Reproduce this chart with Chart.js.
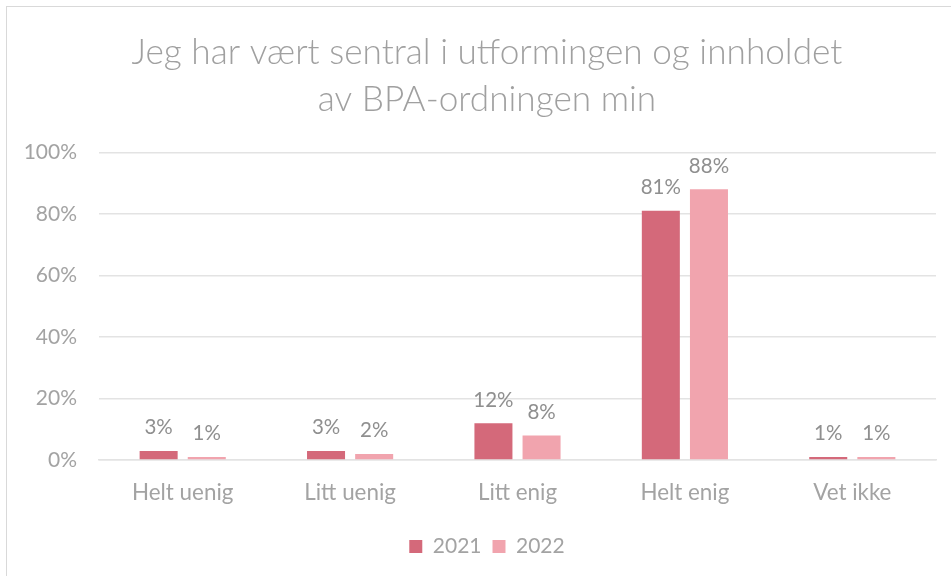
<!DOCTYPE html>
<html>
<head>
<meta charset="utf-8">
<script src="https://cdn.jsdelivr.net/npm/chart.js@4"></script>
<style>
    html, body { margin: 0; padding: 0; background: #fff; overflow: hidden; }
    #box {
        position: absolute; left: 6px; top: 6px;
        width: 960px; height: 580px;
        border: 1px solid #d9d9d9; background: #fff;
    }
    #chartCanvas { display: block; }
</style>
</head>
<body>
<div id="box"><canvas id="chartCanvas" width="960" height="580"></canvas></div>
<script>
const categories = ['Helt uenig', 'Litt uenig', 'Litt enig', 'Helt enig', 'Vet ikke'];
const years = ['2021', '2022'];
const values2021 = [3, 3, 12, 81, 1];
const values2022 = [1, 2, 8, 88, 1];
const yTicks = [0, 20, 40, 60, 80, 100];

const FONT = 'Lato, "Open Sans", sans-serif';
const GREY = '#a3a3a3';

// draws the "12%" style labels over each bar
const barLabels = {
    id: 'barLabels',
    afterDatasetsDraw(chart) {
        const ctx = chart.ctx;
        ctx.save();
        ctx.font = '20.5px ' + FONT;
        ctx.fillStyle = '#8f8f8f';
        ctx.textAlign = 'center';
        ctx.textBaseline = 'bottom';
        chart.data.datasets.forEach((ds, i) => {
            chart.getDatasetMeta(i).data.forEach((bar, j) => {
                ctx.fillText(ds.data[j] + '%', bar.x, bar.y - 13);
            });
        });
        ctx.restore();
    }
};

new Chart(document.getElementById('chartCanvas'), {
    type: 'bar',
    data: {
        labels: categories,
        datasets: [
            { label: years[0], data: values2021, backgroundColor: '#d4697a' },
            { label: years[1], data: values2022, backgroundColor: '#f1a4ae' }
        ]
    },
    options: {
        responsive: false,
        animation: false,
        categoryPercentage: 0.575,
        barPercentage: 0.79,
        layout: { padding: { left: 0, right: 0, top: 22, bottom: 20 } },
        scales: {
            y: {
                min: 0, max: 100,
                afterBuildTicks: (axis) => { axis.ticks = yTicks.map(v => ({ value: v })); },
                afterFit: (axis) => { axis.width = 92; },
                ticks: {
                    callback: (v) => v + '%',
                    color: GREY, font: { family: FONT, size: 21 }, padding: 22
                },
                grid: { color: '#e3e3e3', lineWidth: 1.5, drawTicks: false },
                border: { display: false }
            },
            // empty right axis, only keeps the plot off the right edge
            // so title and legend stay centred on the whole box
            yRight: {
                position: 'right',
                min: 0, max: 100,
                afterFit: (axis) => { axis.width = 31; },
                ticks: { display: false },
                grid: { display: false, drawTicks: false },
                border: { display: false }
            },
            x: {
                ticks: { color: GREY, font: { family: FONT, size: 22.4 }, padding: 19 },
                grid: { display: false, drawTicks: false },
                border: { color: '#e3e3e3', width: 1.5 }
            }
        },
        plugins: {
            title: {
                display: true,
                text: ['Jeg har vært sentral i utformingen og innholdet', 'av BPA-ordningen min'],
                color: '#a0a0a0',
                font: { family: FONT, size: 35.2, weight: 300, lineHeight: 1.34 },
                padding: { top: 0, bottom: 29 }
            },
            legend: {
                position: 'bottom',
                labels: {
                    color: GREY, font: { family: FONT, size: 21 },
                    boxWidth: 13, boxHeight: 13, padding: 11
                }
            },
            tooltip: { enabled: false }
        }
    },
    plugins: [barLabels]
});
</script>
</body>
</html>
